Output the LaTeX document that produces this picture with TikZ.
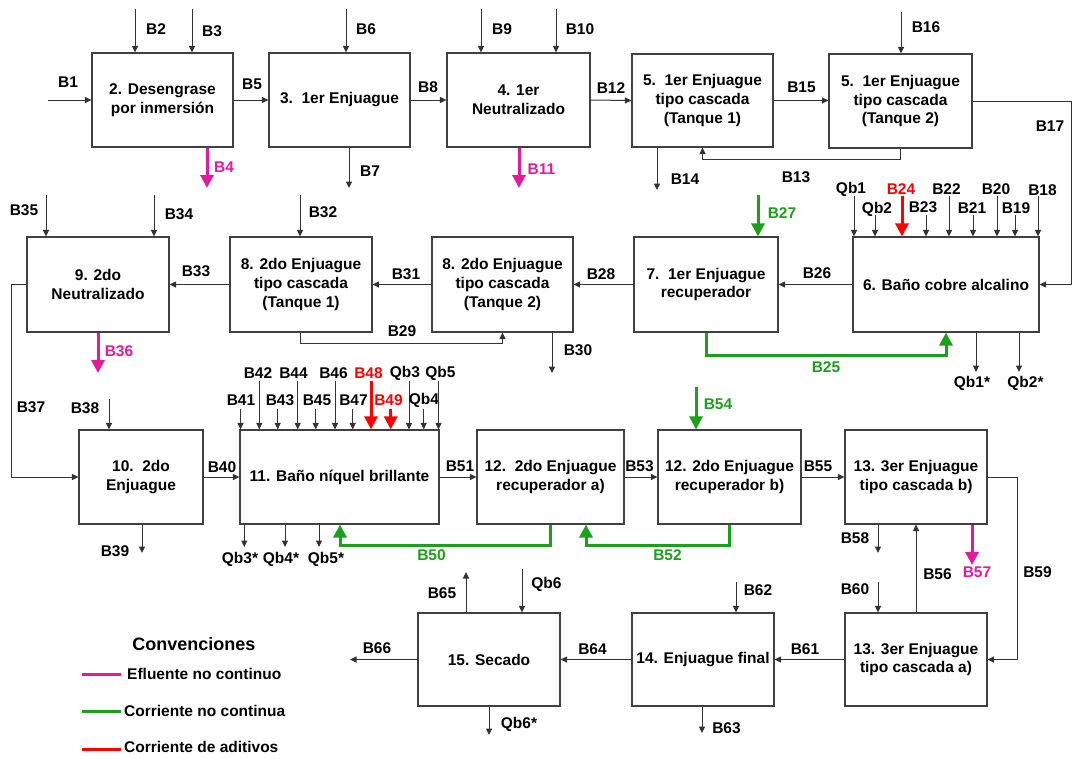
\documentclass[tikz,border=0pt]{standalone}
\usepackage{fontspec}
\setmainfont{Liberation Sans}
\usetikzlibrary{arrows.meta}
\definecolor{mag}{RGB}{228,26,155}
\definecolor{grn}{RGB}{26,160,26}
\definecolor{rd}{RGB}{255,0,0}
\newcommand\fsN{\fontsize{15.5}{18.7}\selectfont\bfseries}
\newcommand\fsL{\fontsize{18}{21}\selectfont\bfseries}
\newcommand\procbox[6]{\pgfmathsetmacro\PBw{#4-#2}\pgfmathsetmacro\PBh{#5-#3}%
  \pgfmathsetmacro\PBx{(#2+#4)/2}\pgfmathsetmacro\PBy{(#3+#5)/2}%
  \node[box, minimum width=\PBw pt, minimum height=\PBh pt] (#1) at (\PBx,\PBy) {#6};}
\newcommand\inflow[5]{\coordinate (#2) at (#3,#4); \draw[#1] (#2) -- (#2 |- #5);}
\newcommand\outflow[5]{\coordinate (#2) at (#3,#4); \draw[#1] (#2 |- #5) -- (#2);}
\newcommand\lab[4]{\node[lbl,#1] (#2) at (#3) {#4};}
\begin{document}
\begin{tikzpicture}[x=1pt,y=-1pt,
  box/.style={draw=black!75, line width=1.1pt, fill=white, align=center, inner sep=0pt, font=\fsN},
  lbl/.style={inner sep=0pt, font=\fsN},
  arr/.style={draw=black!80, line width=1pt, -{Triangle[length=6.5pt,width=6pt]}},
  thk/.style={line width=3pt, -{Triangle[length=13pt,width=13pt]}},
  leg/.style={line width=3pt}]
\useasboundingbox (0,0) rectangle (1075,758);

% ---------- boxes ----------
\procbox{b2}{92}{53}{233}{147}{2. Desengrase\\por inmersión}
\procbox{b3}{269}{53}{410}{147}{3.\ \ 1er Enjuague}
\procbox{b4}{447}{53}{590}{147}{4. 1er\\Neutralizado}
\procbox{b5a}{632}{54}{773}{147}{5.\ \ 1er Enjuague\\tipo cascada\\(Tanque 1)}
\procbox{b5b}{829}{54}{972}{148}{5.\ \ 1er Enjuague\\tipo cascada\\(Tanque 2)}

\procbox{b9}{27}{237}{169}{332}{9. 2do\\Neutralizado}
\procbox{b8a}{230}{237}{372}{332}{8. 2do Enjuague\\tipo cascada\\(Tanque 1)}
\procbox{b8b}{432}{237}{573}{332}{8. 2do Enjuague\\tipo cascada\\(Tanque 2)}
\procbox{b7}{634}{237}{778}{332}{7.\ \ 1er Enjuague\\recuperador}
\procbox{b6}{853}{237}{1039}{332}{6. Baño cobre alcalino}

\procbox{b10}{79}{430}{203}{524}{10.\ \ 2do\\Enjuague}
\procbox{b11}{240}{430}{439}{524}{11. Baño níquel brillante}
\procbox{b12a}{477}{430}{624}{524}{12.\ \ 2do Enjuague\\recuperador a)}
\procbox{b12b}{658}{430}{801}{524}{12. 2do Enjuague\\recuperador b)}
\procbox{b13b}{845}{430}{987}{524}{13. 3er Enjuague\\tipo cascada b)}

\procbox{b15}{418}{613}{560}{706}{15. Secado}
\procbox{b14}{632}{613}{774}{706}{14. Enjuague final}
\procbox{b13a}{845}{613}{987}{706}{13. 3er Enjuague\\tipo cascada a)}

% ---------- row 1 ----------
\coordinate (sB1) at (48,100); \draw[arr] (sB1) -- (b2.west);
\lab{}{lB1}{68,82}{B1}
\inflow{arr}{sB2}{135}{9}{b2.north} \lab{}{lB2}{156,29}{B2}
\inflow{arr}{sB3}{192}{9}{b2.north} \lab{}{lB3}{212,31}{B3}
\outflow{thk,mag}{eB4}{207}{188}{b2.south} \lab{text=mag}{lB4}{224,167}{B4}
\draw[arr] (b2.east) -- (b3.west); \lab{}{lB5}{252,84}{B5}
\inflow{arr}{sB6}{346}{9}{b3.north} \lab{}{lB6}{366,29}{B6}
\outflow{arr}{eB7}{349}{188}{b3.south} \lab{}{lB7}{370,171}{B7}
\draw[arr] (b3.east) -- (b4.west); \lab{}{lB8}{428,87.5}{B8}
\inflow{arr}{sB9}{481}{9}{b4.north} \lab{}{lB9}{502,29}{B9}
\inflow{arr}{sB10}{556}{9}{b4.north} \lab{}{lB10}{580,29}{B10}
\outflow{thk,mag}{eB11}{519}{188}{b4.south} \lab{text=mag}{lB11}{541.5,169}{B11}
\draw[arr] (b4.east) -- (b5a.west); \lab{}{lB12}{611,88}{B12}
\outflow{arr}{eB14}{657}{190}{b5a.south} \lab{}{lB14}{685,179}{B14}
\draw[arr] (b5b.south) -- ++(0,11) -| (b5a.south); \lab{}{lB13}{796,177.5}{B13}
\draw[arr] (b5a.east) -- (b5a.east -| b5b.west); \lab{}{lB15}{801.5,87.5}{B15}
\inflow{arr}{sB16}{901}{12}{b5b.north} \lab{}{lB16}{926,27}{B16}
\draw[arr] (b5b.east) -- ++(99,0) |- (b6.east); \lab{}{lB17}{1050,126}{B17}

% ---------- row 2 ----------
\inflow{arr}{sB35}{46}{195}{b9.north} \lab{}{lB35}{24,210}{B35}
\inflow{arr}{sB34}{154}{195}{b9.north} \lab{}{lB34}{179,214}{B34}
\outflow{thk,mag}{eB36}{98}{373}{b9.south} \lab{text=mag}{lB36}{119,351.5}{B36}
\draw[arr] (b9.west) -- ++(-15,0) |- (b10.west); \lab{}{lB37}{31,407.5}{B37}
\draw[arr] (b8a.west) -- (b9.east); \lab{}{lB33}{196,271}{B33}
\inflow{arr}{sB32}{300}{195}{b8a.north} \lab{}{lB32}{323,212}{B32}
\draw[arr] (b8b.west) -- (b8a.east); \lab{}{lB31}{406,274}{B31}
\draw[arr] ([xshift=-1pt]b8a.south) -- ++(0,11) -| (b8b.south); \lab{}{lB29}{402,331}{B29}
\outflow{arr}{eB30}{552}{373}{b8b.south} \lab{}{lB30}{578,350}{B30}
\draw[arr] (b7.west) -- (b8b.east); \lab{}{lB28}{601,274}{B28}
\inflow{thk,grn}{sB27}{758}{195}{b7.north} \lab{text=grn}{lB27}{782,213}{B27}
\draw[arr] (b6.west) -- (b7.east); \lab{}{lB26}{817,273}{B26}
\draw[thk,grn] (b7.south) -- ++(0,23) -| (b6.south); \lab{text=grn}{lB25}{826,367.5}{B25}
\inflow{arr}{sQb1}{854}{196}{b6.north} \lab{}{lQb1}{851,189.5}{Qb1}
\inflow{arr}{sQb2}{875}{215}{b6.north} \lab{}{lQb2}{877,209}{Qb2}
\inflow{thk,rd}{sB24}{902}{196}{b6.north} \lab{text=rd}{lB24}{901,189.5}{B24}
\inflow{arr}{sB23}{926}{215}{b6.north} \lab{}{lB23}{923,207.5}{B23}
\inflow{arr}{sB22}{949}{196}{b6.north} \lab{}{lB22}{946.5,189}{B22}
\inflow{arr}{sB21}{973}{215}{b6.north} \lab{}{lB21}{972,208}{B21}
\inflow{arr}{sB20}{997}{196}{b6.north} \lab{}{lB20}{996,189}{B20}
\inflow{arr}{sB19}{1015}{215}{b6.north} \lab{}{lB19}{1016,208}{B19}
\inflow{arr}{sB18}{1038}{196}{b6.north} \lab{}{lB18}{1042.5,190}{B18}
\outflow{arr}{eQb1}{976}{372}{b6.south} \lab{}{lQb1s}{972,383}{Qb1*}
\outflow{arr}{eQb2}{1019}{372}{b6.south} \lab{}{lQb2s}{1025.5,383}{Qb2*}

% ---------- row 3 ----------
\inflow{arr}{sB38}{109}{399}{b10.north} \lab{}{lB38}{85,408}{B38}
\outflow{arr}{eB39}{142}{553}{b10.south} \lab{}{lB39}{115,551.5}{B39}
\draw[arr] (b10.east) -- (b11.west); \lab{}{lB40}{222,467}{B40}
\inflow{arr}{sB41}{240.5}{409}{b11.north} \lab{}{lB41}{241,400.5}{B41}
\inflow{arr}{sB42}{259.3}{381}{b11.north} \lab{}{lB42}{258,373}{B42}
\inflow{arr}{sB43}{277.7}{409}{b11.north} \lab{}{lB43}{280,400.5}{B43}
\inflow{arr}{sB44}{297.7}{381}{b11.north} \lab{}{lB44}{293.5,373}{B44}
\inflow{arr}{sB45}{315.7}{409}{b11.north} \lab{}{lB45}{317,400.5}{B45}
\inflow{arr}{sB46}{335}{381}{b11.north} \lab{}{lB46}{333.5,373}{B46}
\inflow{arr}{sB47}{352.7}{409}{b11.north} \lab{}{lB47}{353.5,400.5}{B47}
\inflow{thk,rd}{sB48}{371}{381}{b11.north} \lab{text=rd}{lB48}{368.5,373}{B48}
\inflow{thk,rd}{sB49}{390.7}{409}{b11.north} \lab{text=rd}{lB49}{388.5,400.5}{B49}
\inflow{arr}{sQb3}{409}{381}{b11.north} \lab{}{lQb3}{405,373}{Qb3}
\inflow{arr}{sQb4}{423.7}{409}{b11.north} \lab{}{lQb4}{424,400.5}{Qb4}
\inflow{arr}{sQb5}{438.5}{381}{b11.north} \lab{}{lQb5}{440.5,373}{Qb5}
\outflow{arr}{eQb3}{244.3}{547}{b11.south} \lab{}{lQb3s}{240,559}{Qb3*}
\outflow{arr}{eQb4}{285}{547}{b11.south} \lab{}{lQb4s}{281,559}{Qb4*}
\outflow{arr}{eQb5}{319}{547}{b11.south} \lab{}{lQb5s}{326,559}{Qb5*}
\draw[thk,grn] (b12a.south) -- ++(0,21) -| ([xshift=0.5pt]b11.south); \lab{text=grn}{lB50}{431.5,555}{B50}
\draw[arr] (b11.east) -- (b12a.west); \lab{}{lB51}{460,466}{B51}
\draw[thk,grn] (b12b.south) -- ++(0,21) -| ([xshift=35.5pt]b12a.south); \lab{text=grn}{lB52}{667.5,555}{B52}
\draw[arr] (b12a.east) -- (b12b.west); \lab{}{lB53}{639.5,466}{B53}
\inflow{thk,grn}{sB54}{696}{387}{b12b.north} \lab{text=grn}{lB54}{718,404}{B54}
\draw[arr] (b12b.east) -- (b13b.west); \lab{}{lB55}{818,466}{B55}
\outflow{arr}{eB58}{878}{553}{b13b.south} \lab{}{lB58}{855,538.5}{B58}
\outflow{thk,mag}{eB57}{972}{565}{b13b.south} \lab{text=mag}{lB57}{977,572}{B57}
\draw[arr] (b13a.north) -- (b13b.south); \lab{}{lB56}{937.5,574}{B56}
\draw[arr] (b13b.east) -- ++(30,0) |- (b13a.east); \lab{}{lB59}{1037.5,572}{B59}

% ---------- row 4 ----------
\inflow{arr}{sB60}{878}{582}{b13a.north} \lab{}{lB60}{855,589}{B60}
\inflow{arr}{sB62}{736}{582}{b14.north} \lab{}{lB62}{758,590}{B62}
\draw[arr] (b13a.west) -- (b14.east); \lab{}{lB61}{805,649}{B61}
\outflow{arr}{eB63}{702}{733}{b14.south} \lab{}{lB63}{726.5,728.5}{B63}
\draw[arr] (b14.west) -- (b15.east); \lab{}{lB64}{592.5,649}{B64}
\coordinate (eB66) at (350,659.5); \draw[arr] (b15.west) -- (eB66); \lab{}{lB66}{377,648.5}{B66}
\outflow{arr}{eB65}{466}{572}{b15.north} \lab{}{lB65}{442,593.5}{B65}
\inflow{arr}{sQb6}{522}{569}{b15.north} \lab{}{lQb6}{546.5,584}{Qb6}
\outflow{arr}{eQb6}{489}{735}{b15.south} \lab{}{lQb6s}{519,724}{Qb6*}

% ---------- legend ----------
\node[lbl, font=\fsL] (conv) at (193.8,644) {Convenciones};
\coordinate (lm1) at (82,674); \coordinate (lm2) at (121,674); \draw[leg,mag] (lm1) -- (lm2);
\node[lbl, anchor=west] (tm) at (127,673.5) {Efluente no continuo};
\coordinate (lg1) at (82,711.7); \coordinate (lg2) at (121,711.7); \draw[leg,grn] (lg1) -- (lg2);
\node[lbl, anchor=west] (tg) at (124,710.5) {Corriente no continua};
\coordinate (lr1) at (82,749); \coordinate (lr2) at (121,749); \draw[leg,rd] (lr1) -- (lr2);
\node[lbl, anchor=west] (tr) at (124,747) {Corriente de aditivos};
\end{tikzpicture}
\end{document}
